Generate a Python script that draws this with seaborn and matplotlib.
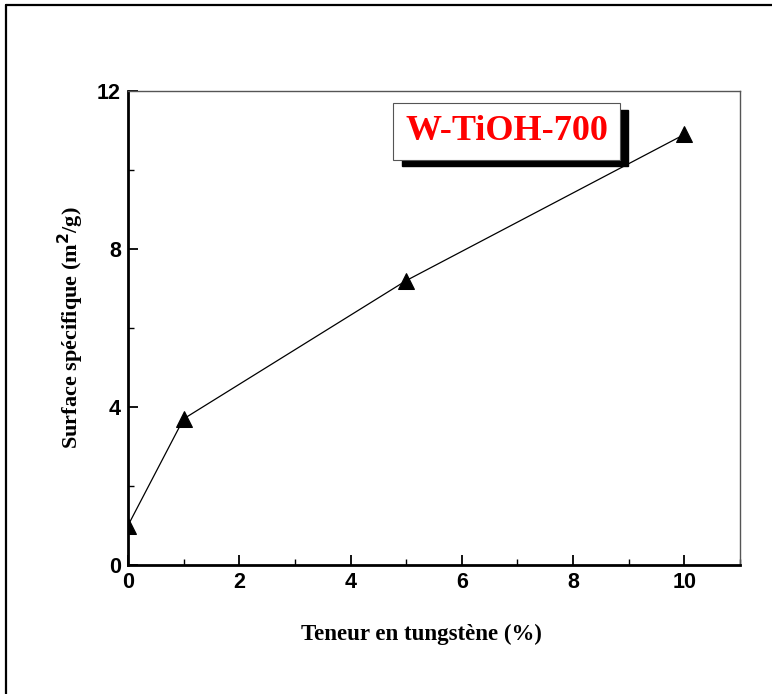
import matplotlib
matplotlib.use("Agg")
import matplotlib.pyplot as plt
import seaborn as sns
import pandas as pd
from matplotlib.patches import Rectangle
from matplotlib.lines import Line2D
from matplotlib.ticker import MultipleLocator

tungsten = [0, 1, 5, 10]
surface = [1.0, 3.7, 7.2, 10.9]
x_ticks = [0, 2, 4, 6, 8, 10]
y_ticks = [0, 4, 8, 12]
label_text = "W-TiOH-700"

df = pd.DataFrame({"x": tungsten, "y": surface})

sns.set_style("white")
fig = plt.figure(figsize=(7.72, 6.94), dpi=100)
ax = fig.add_axes([128/772, 1-565/694, (740-128)/772, (565-91)/694])

sns.lineplot(data=df, x="x", y="y", ax=ax, color="black", linewidth=0.9,
             marker="^", markersize=11, markeredgecolor="black",
             markerfacecolor="black")

ax.set_xlim(0, 11)
ax.set_ylim(0, 12)
ax.set_xticks(x_ticks)
ax.set_yticks(y_ticks)
ax.xaxis.set_minor_locator(MultipleLocator(1))
ax.yaxis.set_minor_locator(MultipleLocator(2))
ax.tick_params(which="major", direction="in", length=7, width=1.3,
               left=True, bottom=True, top=False, right=False, pad=5,
               colors="black", labelcolor="black")
ax.tick_params(which="minor", direction="in", length=4, width=1.0,
               left=True, bottom=True, top=False, right=False, colors="black")
for lab in ax.get_xticklabels() + ax.get_yticklabels():
    lab.set_fontfamily("Liberation Sans")
    lab.set_fontweight("bold")
    lab.set_fontsize(15.5)
    lab.set_color("black")

for side in ["left", "bottom"]:
    ax.spines[side].set_linewidth(2.0)
    ax.spines[side].set_color("black")
for side in ["top", "right"]:
    ax.spines[side].set_linewidth(1.0)
    ax.spines[side].set_color("#555555")

ax.set_xlabel("Teneur en tungstène (%)", fontfamily="Liberation Serif",
              fontweight="bold", fontsize=16.5, color="black")
ax.xaxis.set_label_coords(0.48, -0.125)
ax.set_ylabel("Surface spécifique (m$^{\\mathbf{2}}$/g)", fontfamily="Liberation Serif",
              fontweight="bold", fontsize=16, labelpad=8, color="black")

# label box with shadow
ax.add_patch(Rectangle((4.93, 10.10), 4.05, 1.43, facecolor="black",
                       edgecolor="black", zorder=4, clip_on=False))
ax.add_patch(Rectangle((4.77, 10.25), 4.08, 1.45, facecolor="white",
                       edgecolor="#555555", linewidth=0.8, zorder=5, clip_on=False))
ax.text(6.81, 10.97, label_text, color="red", fontfamily="Liberation Serif",
        fontweight="bold", fontsize=26, ha="center", va="center", zorder=6)

# outer frame
fig.add_artist(Line2D([6/772, 6/772], [0, 1-5/694], transform=fig.transFigure,
                      color="black", linewidth=1.6))
fig.add_artist(Line2D([6/772, 1], [1-5/694, 1-5/694], transform=fig.transFigure,
                      color="black", linewidth=1.6))

fig.savefig("out.png", dpi=100)
